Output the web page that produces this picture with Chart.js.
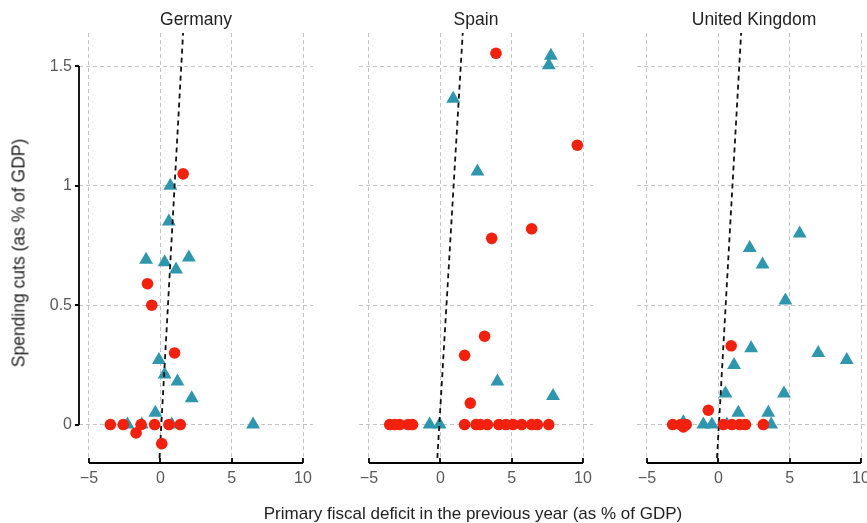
<!DOCTYPE html>
<html>
<head>
<meta charset="utf-8">
<title>Spending cuts vs. primary fiscal deficit</title>
<script src="https://cdn.jsdelivr.net/npm/chart.js@4.4.1/dist/chart.umd.min.js"></script>
<style>
  html, body { margin: 0; padding: 0; background: #fff; }
  #wrap { position: relative; width: 867px; height: 523px; overflow: hidden;
          font-family: "Liberation Sans", Arial, Helvetica, sans-serif; }
  #wrap canvas { position: absolute; top: 0; }
  .ytitle { position: absolute; left: 19px; top: 253px; white-space: nowrap;
            transform: translate(-50%, -50%) rotate(-90deg); font-size: 17.5px; color: #222; }
  .xtitle { position: absolute; left: 473px; top: 514px; white-space: nowrap;
            transform: translate(-50%, -50%); font-size: 17px; color: #222; }
</style>
</head>
<body>
<div id="wrap">
  <div class="ytitle">Spending cuts (as % of GDP)</div>
  <div class="xtitle">Primary fiscal deficit in the previous year (as % of GDP)</div>
</div>
<script>
// ---- data -------------------------------------------------------------
const panels = ['Germany', 'Spain', 'United Kingdom'];

const xTicks = [-5, 0, 5, 10];
const yTicks = [0, 0.5, 1, 1.5];

// Germany
const deCircleX = [1.6, -0.9, -0.6, 1.0, -3.5, -2.6, -1.35, -0.4, 0.6, 1.4, -1.7, 0.1];
const deCircleY = [1.05, 0.59, 0.50, 0.30, 0, 0, 0, 0, 0, 0, -0.035, -0.08];
const deTriX = [0.7, 0.6, -1.0, 0.3, 1.1, 2.0, -0.1, 0.3, 1.2, 2.2, -0.35, -2.3, -1.3, 0.8, 6.5];
const deTriY = [1.0, 0.85, 0.69, 0.68, 0.65, 0.70, 0.27, 0.21, 0.18, 0.11, 0.05, 0, 0, 0, 0];

// Spain
const esCircleX = [3.9, 9.6, 3.6, 6.4, 3.1, 1.7, 2.1, -3.55, -3.2, -2.85, -2.25, -1.95,
                   1.7, 2.5, 2.8, 3.3, 4.1, 4.6, 5.1, 5.7, 6.4, 6.8, 7.6];
const esCircleY = [1.555, 1.17, 0.78, 0.82, 0.37, 0.29, 0.09, 0, 0, 0, 0, 0,
                   0, 0, 0, 0, 0, 0, 0, 0, 0, 0, 0];
const esTriX = [7.75, 7.6, 0.9, 2.6, 4.0, 7.9, -0.75, -0.05];
const esTriY = [1.545, 1.505, 1.365, 1.06, 0.18, 0.12, 0, 0];

// United Kingdom
const ukCircleX = [0.9, -0.7, -3.2, -2.65, -2.25, -2.45, 0.35, 0.95, 1.5, 1.9, 3.15];
const ukCircleY = [0.33, 0.06, 0, 0, 0, -0.01, 0, 0, 0, 0, 0];
const ukTriX = [5.7, 2.2, 3.1, 4.7, 2.3, 7.0, 9.0, 1.1, 0.5, 4.6, 1.4, 3.5, -2.45, -1.05, -0.45, 0.6, 3.7];
const ukTriY = [0.80, 0.74, 0.67, 0.52, 0.32, 0.30, 0.27, 0.25, 0.13, 0.13, 0.05, 0.05, 0.01, 0, 0, 0, 0];

// fitted lines, written as deficit = intercept + slope * cuts
const fitIntercept = [0.07, -0.07, 0.04];
const fitSlope = [0.93, 1.0, 0.95];

// ---- layout / style -------------------------------------------------------
const X_MIN = -5.7, X_MAX = 10.7;
const Y_MIN = -0.14, Y_MAX = 1.64;
const panelOffsets = [0, 280, 558];      // canvas left edge of each facet
const CANVAS_W = 333, CANVAS_H = 523;
const RED = '#f2210e';
const TEAL = '#2e96ad';
const FONT = '"Liberation Sans", Arial, Helvetica, sans-serif';

const circleX = [deCircleX, esCircleX, ukCircleX];
const circleY = [deCircleY, esCircleY, ukCircleY];
const triX = [deTriX, esTriX, ukTriX];
const triY = [deTriY, esTriY, ukTriY];

const zip = (xs, ys) => xs.map((v, i) => ({ x: v, y: ys[i] }));
const fmtTick = v => (v < 0 ? '\u2212' + Math.abs(v) : String(v));

// Axis lines that run only between the outer ticks, plus the facet strip title
const baseAxes = {
  id: 'baseAxes',
  afterDraw(chart, args, opts) {
    const { ctx, chartArea, scales } = chart;
    const sx = scales.x, sy = scales.y;
    ctx.save();
    ctx.strokeStyle = '#000';
    ctx.lineWidth = 1.8;
    const ay = Math.round(chartArea.bottom + 5);
    const xs = xTicks.map(v => Math.round(sx.getPixelForValue(v)));
    ctx.beginPath();
    ctx.moveTo(xs[0], ay);
    ctx.lineTo(xs[xs.length - 1], ay);
    xs.forEach(p => { ctx.moveTo(p, ay); ctx.lineTo(p, ay - 5); });
    ctx.stroke();
    if (opts.showY) {
      const ax = Math.round(chartArea.left);
      const ys = yTicks.map(v => Math.round(sy.getPixelForValue(v)));
      ctx.beginPath();
      ctx.moveTo(ax, ys[0]);
      ctx.lineTo(ax, ys[ys.length - 1]);
      ys.forEach(p => { ctx.moveTo(ax, p); ctx.lineTo(ax - 4, p); });
      ctx.stroke();
    }
    ctx.fillStyle = '#222';
    ctx.font = '17.5px ' + FONT;
    ctx.textAlign = 'center';
    ctx.textBaseline = 'middle';
    ctx.fillText(opts.title, (chartArea.left + chartArea.right) / 2, 20);
    ctx.restore();
  }
};

const wrap = document.getElementById('wrap');

panels.forEach((name, i) => {
  const cv = document.createElement('canvas');
  cv.width = CANVAS_W;
  cv.height = CANVAS_H;
  cv.style.left = panelOffsets[i] + 'px';
  cv.style.width = CANVAS_W + 'px';
  cv.style.height = CANVAS_H + 'px';
  wrap.insertBefore(cv, wrap.firstChild);

  const fitLine = [Y_MIN, Y_MAX].map(y => ({ x: fitIntercept[i] + fitSlope[i] * y, y }));

  new Chart(cv, {
    type: 'scatter',
    data: {
      datasets: [
        {
          label: 'circles',
          data: zip(circleX[i], circleY[i]),
          pointStyle: 'circle',
          pointRadius: 5.8,
          backgroundColor: RED,
          borderWidth: 0,
          order: 0
        },
        {
          type: 'line',
          label: 'fit',
          data: fitLine,
          borderColor: '#111',
          borderWidth: 1.8,
          borderDash: [5, 4],
          pointRadius: 0,
          fill: false,
          order: 1
        },
        {
          label: 'triangles',
          data: zip(triX[i], triY[i]),
          pointStyle: 'triangle',
          pointRadius: 8,
          backgroundColor: TEAL,
          borderWidth: 0,
          order: 2
        }
      ]
    },
    options: {
      responsive: false,
      animation: false,
      devicePixelRatio: 1,
      events: [],
      layout: { padding: { top: 33, left: 0, right: 20, bottom: 0 } },
      plugins: {
        legend: { display: false },
        tooltip: { enabled: false },
        title: { display: false },
        baseAxes: { title: name, showY: i === 0 }
      },
      scales: {
        x: {
          type: 'linear',
          min: X_MIN,
          max: X_MAX,
          afterBuildTicks: s => { s.ticks = xTicks.map(v => ({ value: v })); },
          afterFit: s => { s.height = 65; },
          grid: { color: '#c4c4c4', lineWidth: 1, drawTicks: false },
          border: { display: false, dash: [4, 3] },
          ticks: {
            autoSkip: false,
            maxRotation: 0,
            padding: 11,
            color: '#595959',
            font: { family: FONT, size: 16 },
            callback: v => fmtTick(v)
          }
        },
        y: {
          type: 'linear',
          min: Y_MIN,
          max: Y_MAX,
          afterBuildTicks: s => { s.ticks = yTicks.map(v => ({ value: v })); },
          afterFit: s => { s.width = 79; },
          grid: { color: '#c4c4c4', lineWidth: 1, drawTicks: false },
          border: { display: false, dash: [4, 3] },
          ticks: {
            display: i === 0,
            autoSkip: false,
            padding: 7,
            color: '#595959',
            font: { family: FONT, size: 16 },
            callback: v => String(v)
          }
        }
      }
    },
    plugins: [baseAxes]
  });
});
</script>
</body>
</html>
